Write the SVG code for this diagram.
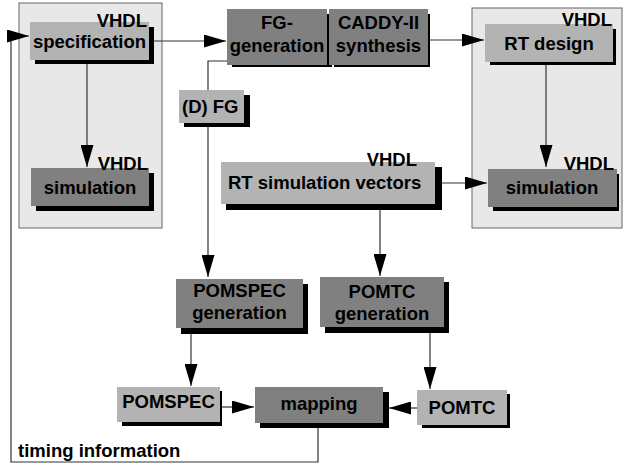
<svg xmlns="http://www.w3.org/2000/svg" width="624" height="466" viewBox="0 0 624 466">
<style>
text{font-family:"Liberation Sans",Arial,sans-serif;font-weight:bold;font-size:18.5px;fill:#000}
.c{text-anchor:middle}
.e{text-anchor:end}
.lt{fill:#b3b3b3}
.dk{fill:#808080}
.sh{fill:#000}
.ct{fill:#e8e8e8;stroke:#666;stroke-width:1}
.ln{fill:none;stroke:#333;stroke-width:1.2}
</style>
<defs>
<marker id="ah" markerWidth="22" markerHeight="13" refX="22" refY="6.5" orient="auto" markerUnits="userSpaceOnUse">
<path d="M0,0 L22,6.5 L0,13 Z" fill="#000"/>
</marker>
</defs>
<rect x="0" y="0" width="624" height="466" fill="#fff"/>
<g id="containers">
<rect class="ct" x="19" y="3" width="143" height="225"/>
<rect class="ct" x="472" y="8" width="150" height="220"/>
</g>
<g id="connectors">
<path class="ln" d="M87,63 V167" marker-end="url(#ah)"/>
<path class="ln" d="M546,65 V167" marker-end="url(#ah)"/>
<path class="ln" d="M149,41 H226" marker-end="url(#ah)"/>
<path class="ln" d="M428,40 H484" marker-end="url(#ah)"/>
<path class="ln" d="M442,183 H487" marker-end="url(#ah)"/>
<path class="ln" d="M227,61 H208 V277" marker-end="url(#ah)"/>
<path class="ln" d="M380,210 V276" marker-end="url(#ah)"/>
<path class="ln" d="M191,334 V386" marker-end="url(#ah)"/>
<path class="ln" d="M430,333 V389" marker-end="url(#ah)"/>
<path class="ln" d="M222,407 H254" marker-end="url(#ah)"/>
<path class="ln" d="M417,408 H389" marker-end="url(#ah)"/>
<path class="ln" d="M318,428 V462 H11 V36 H29" marker-end="url(#ah)"/>
</g>
<g id="spec">
<rect class="sh" x="35" y="27" width="119" height="37"/>
<rect class="lt" x="30" y="22" width="119" height="38"/>
<text class="e" x="147" y="27">VHDL</text>
<text class="c" x="89.5" y="48">specification</text>
</g>
<g id="sim-left">
<rect class="sh" x="36" y="173" width="118" height="38"/>
<rect class="dk" x="31" y="168" width="118" height="38"/>
<text class="e" x="148" y="170">VHDL</text>
<text class="c" x="90" y="194">simulation</text>
</g>
<g id="fg-generation">
<rect class="sh" x="232" y="14" width="100" height="53"/>
<rect class="dk" x="227" y="9" width="100" height="56"/>
<text class="c" x="277" y="29">FG-</text>
<text class="c" x="277" y="52">generation</text>
</g>
<g id="caddy">
<rect class="sh" x="334" y="14" width="96" height="53"/>
<rect class="dk" x="329" y="9" width="99" height="56"/>
<text class="c" x="378.5" y="29">CADDY-II</text>
<text class="c" x="378.5" y="52">synthesis</text>
</g>
<g id="rt-design">
<rect class="sh" x="490" y="29" width="126" height="36"/>
<rect class="lt" x="485" y="24" width="128" height="38"/>
<text class="e" x="612" y="26">VHDL</text>
<text class="c" x="549" y="50">RT design</text>
</g>
<g id="sim-right">
<rect class="sh" x="493" y="174" width="126" height="37"/>
<rect class="dk" x="488" y="169" width="129" height="38"/>
<text class="e" x="614" y="170">VHDL</text>
<text class="c" x="552" y="194">simulation</text>
</g>
<g id="dfg">
<rect class="sh" x="184" y="95" width="66" height="32"/>
<rect class="lt" x="179" y="90" width="65" height="33"/>
<text x="182" y="113">(D) FG</text>
</g>
<g id="rt-sim-vectors">
<rect class="sh" x="226" y="167" width="216" height="43"/>
<rect class="lt" x="221" y="162" width="214" height="42"/>
<text class="e" x="417" y="166">VHDL</text>
<text x="228" y="189">RT simulation vectors</text>
</g>
<g id="pomspec-gen">
<rect class="sh" x="181" y="284" width="127" height="50"/>
<rect class="dk" x="176" y="279" width="127" height="49"/>
<text class="c" x="239.5" y="297">POMSPEC</text>
<text class="c" x="239.5" y="319">generation</text>
</g>
<g id="pomtc-gen">
<rect class="sh" x="325" y="282" width="124" height="51"/>
<rect class="dk" x="320" y="277" width="124" height="50"/>
<text class="c" x="382" y="298">POMTC</text>
<text class="c" x="382" y="320">generation</text>
</g>
<g id="pomspec">
<rect class="sh" x="122" y="391" width="100" height="35"/>
<rect class="lt" x="117" y="387" width="103" height="35"/>
<text class="c" x="168.5" y="408">POMSPEC</text>
</g>
<g id="mapping">
<rect class="sh" x="260" y="392" width="129" height="36"/>
<rect class="dk" x="255" y="387" width="128" height="36"/>
<text class="c" x="319" y="410">mapping</text>
</g>
<g id="pomtc">
<rect class="sh" x="422" y="394" width="88" height="34"/>
<rect class="lt" x="417" y="390" width="90" height="35"/>
<text class="c" x="462" y="414">POMTC</text>
</g>
<g id="timing">
<text x="18" y="457">timing information</text>
</g>
</svg>
